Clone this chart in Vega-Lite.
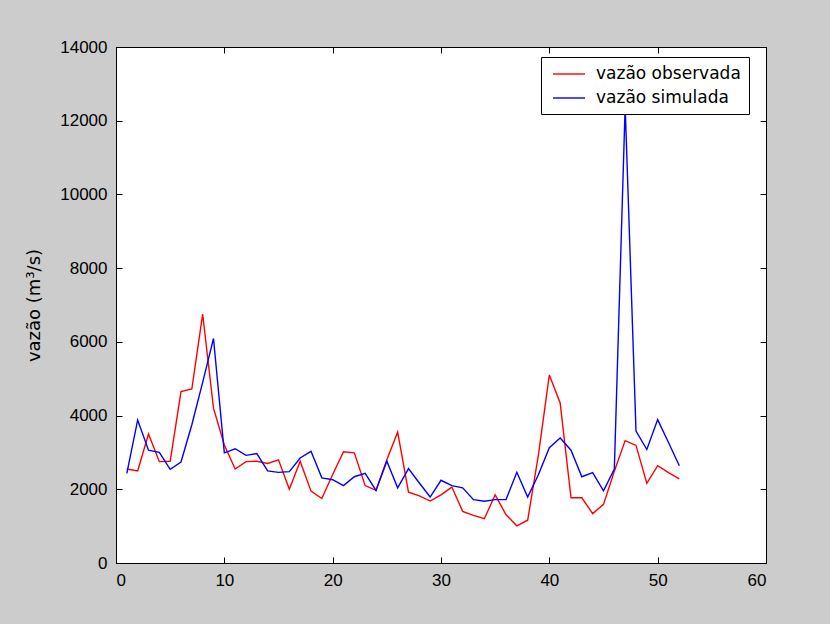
{
  "$schema": "https://vega.github.io/schema/vega-lite/v6.json",
  "width": 650,
  "height": 516,
  "autosize": {"type": "none"},
  "padding": {"left": 116, "top": 47, "right": 64, "bottom": 61},
  "background": "#cccccc",
  "config": {
    "view": {"stroke": "black", "strokeWidth": 1, "fill": "white"},
    "font": "Liberation Sans",
    "axis": {
      "grid": false,
      "domainColor": "black",
      "domainWidth": 1,
      "tickColor": "black",
      "tickWidth": 1,
      "tickSize": -6,
      "labelColor": "black",
      "labelFont": "Liberation Sans",
      "labelFontSize": 17,
      "labelPadding": 15,
      "titleColor": "black",
      "titleFont": "DejaVu Sans",
      "titleFontSize": 18,
      "titleFontWeight": "normal"
    },
    "legend": {
      "labelFont": "DejaVu Sans",
      "labelFontSize": 17,
      "labelColor": "black"
    }
  },
  "data": {
    "values": [
      {"t": 1, "serie": "vazão observada", "q": 2550},
      {"t": 2, "serie": "vazão observada", "q": 2500},
      {"t": 3, "serie": "vazão observada", "q": 3500},
      {"t": 4, "serie": "vazão observada", "q": 2750},
      {"t": 5, "serie": "vazão observada", "q": 2760},
      {"t": 6, "serie": "vazão observada", "q": 4650},
      {"t": 7, "serie": "vazão observada", "q": 4720},
      {"t": 8, "serie": "vazão observada", "q": 6750},
      {"t": 9, "serie": "vazão observada", "q": 4200},
      {"t": 10, "serie": "vazão observada", "q": 3200},
      {"t": 11, "serie": "vazão observada", "q": 2550},
      {"t": 12, "serie": "vazão observada", "q": 2750},
      {"t": 13, "serie": "vazão observada", "q": 2760},
      {"t": 14, "serie": "vazão observada", "q": 2700},
      {"t": 15, "serie": "vazão observada", "q": 2800},
      {"t": 16, "serie": "vazão observada", "q": 2000},
      {"t": 17, "serie": "vazão observada", "q": 2760},
      {"t": 18, "serie": "vazão observada", "q": 1950},
      {"t": 19, "serie": "vazão observada", "q": 1750},
      {"t": 20, "serie": "vazão observada", "q": 2400},
      {"t": 21, "serie": "vazão observada", "q": 3020},
      {"t": 22, "serie": "vazão observada", "q": 2990},
      {"t": 23, "serie": "vazão observada", "q": 2100},
      {"t": 24, "serie": "vazão observada", "q": 1970},
      {"t": 25, "serie": "vazão observada", "q": 2800},
      {"t": 26, "serie": "vazão observada", "q": 3550},
      {"t": 27, "serie": "vazão observada", "q": 1920},
      {"t": 28, "serie": "vazão observada", "q": 1820},
      {"t": 29, "serie": "vazão observada", "q": 1680},
      {"t": 30, "serie": "vazão observada", "q": 1850},
      {"t": 31, "serie": "vazão observada", "q": 2060},
      {"t": 32, "serie": "vazão observada", "q": 1400},
      {"t": 33, "serie": "vazão observada", "q": 1290},
      {"t": 34, "serie": "vazão observada", "q": 1200},
      {"t": 35, "serie": "vazão observada", "q": 1850},
      {"t": 36, "serie": "vazão observada", "q": 1310},
      {"t": 37, "serie": "vazão observada", "q": 1010},
      {"t": 38, "serie": "vazão observada", "q": 1160},
      {"t": 39, "serie": "vazão observada", "q": 2950},
      {"t": 40, "serie": "vazão observada", "q": 5100},
      {"t": 41, "serie": "vazão observada", "q": 4340},
      {"t": 42, "serie": "vazão observada", "q": 1770},
      {"t": 43, "serie": "vazão observada", "q": 1770},
      {"t": 44, "serie": "vazão observada", "q": 1340},
      {"t": 45, "serie": "vazão observada", "q": 1590},
      {"t": 46, "serie": "vazão observada", "q": 2490},
      {"t": 47, "serie": "vazão observada", "q": 3320},
      {"t": 48, "serie": "vazão observada", "q": 3190},
      {"t": 49, "serie": "vazão observada", "q": 2160},
      {"t": 50, "serie": "vazão observada", "q": 2640},
      {"t": 51, "serie": "vazão observada", "q": 2450},
      {"t": 52, "serie": "vazão observada", "q": 2280},
      {"t": 1, "serie": "vazão simulada", "q": 2430},
      {"t": 2, "serie": "vazão simulada", "q": 3880},
      {"t": 3, "serie": "vazão simulada", "q": 3060},
      {"t": 4, "serie": "vazão simulada", "q": 3000},
      {"t": 5, "serie": "vazão simulada", "q": 2540},
      {"t": 6, "serie": "vazão simulada", "q": 2740},
      {"t": 7, "serie": "vazão simulada", "q": 3750},
      {"t": 8, "serie": "vazão simulada", "q": 4900},
      {"t": 9, "serie": "vazão simulada", "q": 6090},
      {"t": 10, "serie": "vazão simulada", "q": 2990},
      {"t": 11, "serie": "vazão simulada", "q": 3100},
      {"t": 12, "serie": "vazão simulada", "q": 2920},
      {"t": 13, "serie": "vazão simulada", "q": 2970},
      {"t": 14, "serie": "vazão simulada", "q": 2500},
      {"t": 15, "serie": "vazão simulada", "q": 2460},
      {"t": 16, "serie": "vazão simulada", "q": 2480},
      {"t": 17, "serie": "vazão simulada", "q": 2850},
      {"t": 18, "serie": "vazão simulada", "q": 3030},
      {"t": 19, "serie": "vazão simulada", "q": 2310},
      {"t": 20, "serie": "vazão simulada", "q": 2260},
      {"t": 21, "serie": "vazão simulada", "q": 2100},
      {"t": 22, "serie": "vazão simulada", "q": 2340},
      {"t": 23, "serie": "vazão simulada", "q": 2430},
      {"t": 24, "serie": "vazão simulada", "q": 1970},
      {"t": 25, "serie": "vazão simulada", "q": 2760},
      {"t": 26, "serie": "vazão simulada", "q": 2040},
      {"t": 27, "serie": "vazão simulada", "q": 2560},
      {"t": 28, "serie": "vazão simulada", "q": 2170},
      {"t": 29, "serie": "vazão simulada", "q": 1790},
      {"t": 30, "serie": "vazão simulada", "q": 2245},
      {"t": 31, "serie": "vazão simulada", "q": 2100},
      {"t": 32, "serie": "vazão simulada", "q": 2040},
      {"t": 33, "serie": "vazão simulada", "q": 1720},
      {"t": 34, "serie": "vazão simulada", "q": 1675},
      {"t": 35, "serie": "vazão simulada", "q": 1720},
      {"t": 36, "serie": "vazão simulada", "q": 1720},
      {"t": 37, "serie": "vazão simulada", "q": 2460},
      {"t": 38, "serie": "vazão simulada", "q": 1790},
      {"t": 39, "serie": "vazão simulada", "q": 2400},
      {"t": 40, "serie": "vazão simulada", "q": 3130},
      {"t": 41, "serie": "vazão simulada", "q": 3390},
      {"t": 42, "serie": "vazão simulada", "q": 3060},
      {"t": 43, "serie": "vazão simulada", "q": 2340},
      {"t": 44, "serie": "vazão simulada", "q": 2450},
      {"t": 45, "serie": "vazão simulada", "q": 1960},
      {"t": 46, "serie": "vazão simulada", "q": 2550},
      {"t": 47, "serie": "vazão simulada", "q": 12400},
      {"t": 48, "serie": "vazão simulada", "q": 3580},
      {"t": 49, "serie": "vazão simulada", "q": 3080},
      {"t": 50, "serie": "vazão simulada", "q": 3890},
      {"t": 51, "serie": "vazão simulada", "q": 3270},
      {"t": 52, "serie": "vazão simulada", "q": 2640}
    ]
  },
  "layer": [
    {
      "mark": {"type": "line", "strokeWidth": 1.4},
      "encoding": {
        "x": {
          "field": "t",
          "type": "quantitative",
          "scale": {"domain": [0, 60], "nice": false},
          "axis": {"orient": "bottom", "title": null, "values": [0, 10, 20, 30, 40, 50, 60]}
        },
        "y": {
          "field": "q",
          "type": "quantitative",
          "scale": {"domain": [0, 14000], "nice": false},
          "axis": {
            "orient": "left",
            "title": "vazão (m³/s)",
            "titlePadding": 16,
            "format": "d",
            "values": [0, 2000, 4000, 6000, 8000, 10000, 12000, 14000]
          }
        },
        "color": {
          "field": "serie",
          "type": "nominal",
          "scale": {"domain": ["vazão observada", "vazão simulada"], "range": ["#ff0000", "#0000ff"]},
          "legend": {
            "orient": "none",
            "legendX": 425,
            "legendY": 10,
            "title": null,
            "fillColor": "white",
            "strokeColor": "black",
            "padding": 8,
            "symbolType": "M-2,0H2",
            "symbolSize": 256,
            "symbolStrokeWidth": 1.4,
            "symbolOffset": 11,
            "labelOffset": 18,
            "rowPadding": 7
          }
        }
      }
    },
    {
      "mark": {"type": "point", "opacity": 0},
      "encoding": {
        "x": {
          "field": "t",
          "type": "quantitative",
          "axis": {"orient": "top", "title": null, "labels": false, "values": [0, 10, 20, 30, 40, 50, 60]}
        },
        "y": {
          "field": "q",
          "type": "quantitative",
          "axis": {"orient": "right", "title": null, "labels": false, "values": [0, 2000, 4000, 6000, 8000, 10000, 12000, 14000]}
        }
      }
    }
  ],
  "resolve": {"axis": {"x": "independent", "y": "independent"}}
}
